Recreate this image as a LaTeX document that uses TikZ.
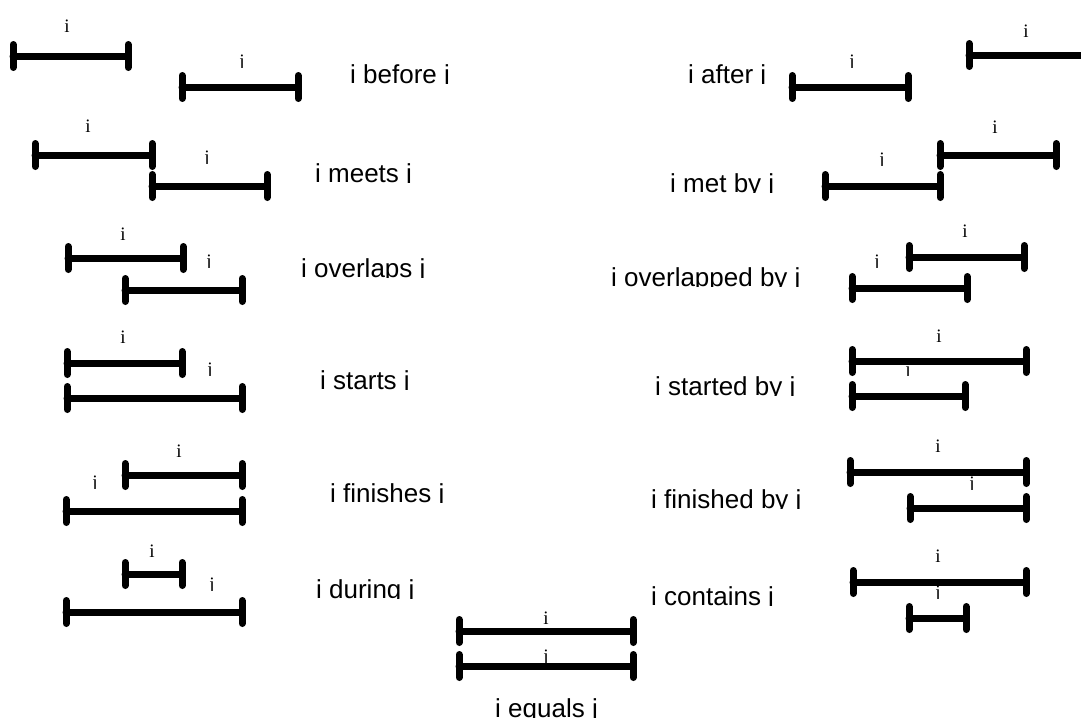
\documentclass[tikz,border=0pt]{standalone}
\usepackage{fontspec}
\setmainfont{Liberation Serif}
\newfontfamily\capfont{Liberation Sans}
\tikzset{
  bar/.style={line width=7pt, line cap=round},
  lab/.style={inner sep=0pt, anchor=base, font=\fontsize{19}{22}\selectfont},
  captext/.style={inner sep=0pt, anchor=base west, font=\capfont\fontsize{26}{30}\selectfont},
}
% interval: x1, x2, y
\newcommand\ival[3]{%
  \draw[bar] (#1,#3) -- (#2,#3);
  \draw[bar] (#1,#3-11.5) -- (#1,#3+11.5);
  \draw[bar] (#2,#3-11.5) -- (#2,#3+11.5);}
% text clipped at its baseline: name, style, x, y, text
\newcommand\ctext[5]{%
  \begin{scope}
    \clip (#3-300,#4) rectangle (#3+300,#4-45);
    \node[#2] (#1) at (#3,#4) {#5};
  \end{scope}}
\begin{document}
\begin{tikzpicture}[x=1pt,y=-1pt]
\useasboundingbox (0,0) rectangle (1081,720);
\clip (0,0) rectangle (1081,720);
% before
\ival{13}{128}{56} \ival{182}{298}{87}
\ctext{bi}{lab}{67}{32}{i} \ctext{bj}{lab}{242}{67}{j}
\ctext{bc}{captext}{350}{83}{i before j}
% after
\ival{792}{908}{87} \ival{969}{1085}{55}
\ctext{aj}{lab}{852}{67}{j} \ctext{ai}{lab}{1026}{37}{i}
\ctext{ac}{captext}{688}{83}{i after j}
% meets
\ival{35}{152}{155} \ival{152}{267}{186}
\ctext{mi}{lab}{88}{132}{i} \ctext{mj}{lab}{207}{163}{j}
\ctext{mc}{captext}{315}{182}{i meets j}
% overlaps
\ival{68}{183}{258} \ival{125}{242}{290}
\ctext{oi}{lab}{123}{240}{i} \ctext{oj}{lab}{209}{267}{j}
\ctext{oc}{captext}{301}{277}{i overlaps j}
% met by
\ival{940}{1056}{155} \ival{825}{940}{186}
\ctext{mbi}{lab}{995}{133}{i} \ctext{mbj}{lab}{882}{165}{j}
\ctext{mbc}{captext}{670}{192}{i met by j}
% overlapped by
\ival{909}{1024}{257} \ival{852}{967}{288}
\ctext{obi}{lab}{965}{237}{i} \ctext{obj}{lab}{877}{267}{j}
\ctext{obc}{captext}{611}{286}{i overlapped by j}
% starts
\ival{67}{182}{363} \ival{67}{242}{398}
\ctext{si}{lab}{123}{343}{i} \ctext{sj}{lab}{210}{375}{j}
\ctext{sc}{captext}{320}{389}{i starts j}
% started by
\ival{852}{1026}{361} \ival{852}{965}{396}
\ctext{sbi}{lab}{939}{342}{i} \ctext{sbj}{lab}{908}{375}{j}
\ctext{sbc}{captext}{655}{395}{i started by j}
% finishes
\ival{125}{242}{475} \ival{66}{242}{511}
\ctext{fi}{lab}{179}{457}{i} \ctext{fj}{lab}{95}{488}{j}
\ctext{fc}{captext}{330}{502}{i finishes j}
% during
\ival{125}{182}{574} \ival{66}{242}{612}
\ctext{di}{lab}{152}{557}{i} \ctext{dj}{lab}{212}{590}{j}
\ctext{dc}{captext}{316}{598}{i during j}
% finished by
\ival{850}{1026}{472} \ival{910}{1026}{508}
\ctext{fbi}{lab}{938}{452}{i} \ctext{fbj}{lab}{972}{489}{j}
\ctext{fbc}{captext}{651}{508}{i finished by j}
% contains
\ival{853}{1026}{582} \ival{909}{966}{618}
\ctext{ci}{lab}{938}{562}{i} \ctext{cj}{lab}{938}{598}{j}
\ctext{cc}{captext}{651}{605}{i contains j}
% equals
\ival{459}{633}{631} \ival{459}{633}{666}
\ctext{ei}{lab}{546}{624}{i} \ctext{ej}{lab}{546}{662}{j}
\ctext{ec}{captext}{495}{717}{i equals j}
\end{tikzpicture}
\end{document}
